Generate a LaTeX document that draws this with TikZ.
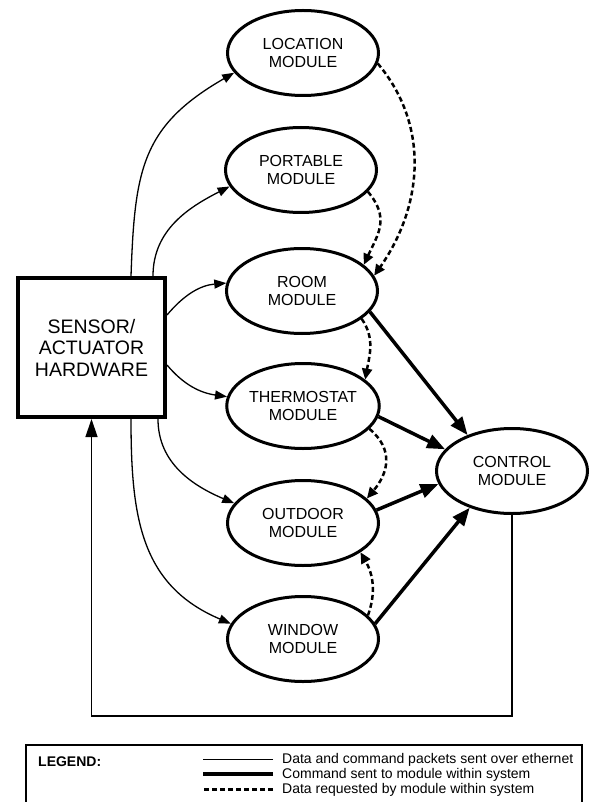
\documentclass[tikz,border=0pt]{standalone}
\usepackage{fontspec}
\setmainfont{Liberation Sans}
\usetikzlibrary{arrows.meta,shapes.geometric}
\begin{document}
\begin{tikzpicture}[x=1pt,y=-1pt,
  module/.style={ellipse, draw, line width=3pt, minimum width=151pt, minimum height=85pt,
    inner sep=0pt, align=center, font=\fontsize{16}{18}\selectfont},
  hwbox/.style={rectangle, draw, line width=4pt, minimum width=147pt, minimum height=139pt,
    inner sep=0pt, align=center, font=\fontsize{19.5}{21.5}\selectfont},
  link/.style={line width=1.3pt, -{Triangle[length=12pt,width=9pt]}},
  cmd/.style={line width=3.5pt, -{Triangle[length=18pt,width=14pt]}},
  req/.style={line width=2.5pt, dash pattern=on 5pt off 3pt, -{Triangle[length=11pt,width=10pt]}},
  legtext/.style={anchor=base west, inner sep=0pt, font=\fontsize{14}{15}\selectfont}
]
\useasboundingbox (0,0) rectangle (589,802);

% modules
\node[module] (loc)   at (303,53)  {LOCATION\\MODULE};
\node[module] (port)  at (301,170) {PORTABLE\\MODULE};
\node[module] (room)  at (302,291) {ROOM\\MODULE};
\node[module] (therm) at (303,406) {THERMOSTAT\\MODULE};
\node[module] (outd)  at (303,523) {OUTDOOR\\MODULE};
\node[module] (win)   at (303,639) {WINDOW\\MODULE};
\node[module] (ctl)   at (512,471) {CONTROL\\MODULE};
\node[hwbox]  (hw)    at (91.5,347.5) {SENSOR/\\ACTUATOR\\HARDWARE};

% ethernet packets from the hardware
\draw[link] ([xshift=39.5pt]hw.north) to[out=88,in=210,looseness=1.2] (loc.196);
\draw[link] ([xshift=61.5pt]hw.north) to[out=90,in=207] (port.193);
\draw[link] ([yshift=32.5pt]hw.east) to[out=50,in=185] (room.174);
\draw[link] ([yshift=-17.5pt]hw.east) to[out=-50,in=172] (therm.173);
\draw[link] ([xshift=66.5pt]hw.south) to[out=-90,in=157] (outd.164);
\draw[link] ([xshift=39.5pt]hw.south) to[out=-90,in=157,looseness=1.1] (win.168);

% commands to the control module
\draw[cmd] (room.-17) -- (ctl.141);
\draw[cmd] (therm.-8) -- (ctl.162);
\draw[cmd] (outd.10) -- (ctl.190);
\draw[cmd] (win.12) -- (ctl.221);

% data requests between modules
\draw[req] (loc.-8) to[out=-50,in=55] (room.12);
\draw[req] (port.-18) to[out=-50,in=65,looseness=1.2] (room.23);
\draw[req] (room.-25) to[out=-55,in=80] (therm.23);
\draw[req] (therm.-19) to[out=-40,in=50,looseness=1.2] (outd.21);
\draw[req] (win.20) to[out=70,in=-60] (outd.-27);

% feedback from control to hardware
\draw[link, -{Triangle[length=18pt,width=12pt]}] (ctl.south) |- ([yshift=-297pt]hw.south) -- (hw.south);

% legend
\draw[line width=2pt] (26,745) rectangle (582,830);
\node[anchor=base west, inner sep=0pt, font=\bfseries\fontsize{14}{15}\selectfont] (leg) at (38,766) {LEGEND:};
\node[legtext] (t1) at (282,763) {Data and command packets sent over ethernet};
\node[legtext] (t2) at (282,778) {Command sent to module within system};
\node[legtext] (t3) at (282,793) {Data requested by module within system};
\draw[line width=1.3pt] ([xshift=-9pt]t1.west) -- ++(-70,0);
\draw[line width=4pt] ([xshift=-9pt]t2.west) -- ++(-70,0);
\draw[line width=2.5pt, dash pattern=on 5pt off 3pt] ([xshift=-9pt]t3.west) -- ++(-70,0);
\end{tikzpicture}
\end{document}
